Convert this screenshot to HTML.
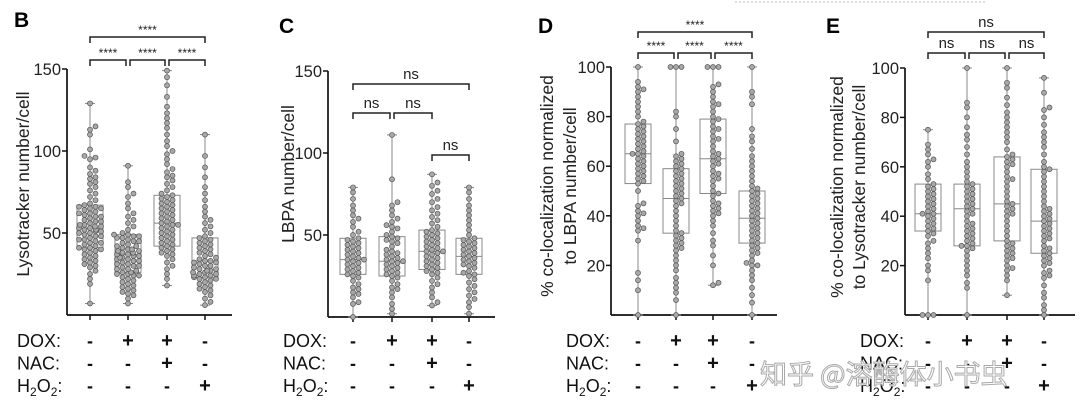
<!DOCTYPE html>
<html><head><meta charset="utf-8">
<style>
html,body{margin:0;padding:0;background:#fff;width:1080px;height:412px;overflow:hidden}
svg{display:block;font-family:"Liberation Sans","Noto Sans CJK SC",sans-serif}
</style></head>
<body>
<svg id="fig" width="1080" height="412" viewBox="0 0 1080 412">
<line x1="735" y1="2" x2="985" y2="2" stroke="#bbb" stroke-dasharray="2,2"/>
</svg>
<script>
// ---- data ----
const groupLabels = ["ctrl","DOX","DOX+NAC","H2O2"];
const doxRow = ["-","+","+","-"];
const nacRow = ["-","-","+","-"];
const h2o2Row = ["-","-","-","+"];

const bStats = [[7,41,53,67,129],[7,26,37,49,91],[18,42,56,73,149],[6,23,33,47,110]];
const bG1 = [7,19,22,25,27,29,30,31,32,33,34,35,36,37,38,39,40,40,41,41,42,43,44,44,45,46,46,47,48,48,49,50,50,51,51,52,52,53,53,54,54,55,55,56,57,57,58,59,60,60,61,62,62,63,64,65,65,66,66,67,68,70,72,74,76,78,80,81,83,84,86,88,90,95,96,97,101,110,113,115,129];
const bG2 = [7,10,12,13,14,15,16,17,18,19,20,21,22,23,24,24,25,25,26,26,27,28,28,29,30,30,31,31,32,33,33,34,34,35,35,36,36,37,37,38,38,39,39,40,40,41,42,42,43,44,45,45,46,47,47,48,48,49,49,50,52,54,56,58,60,62,65,68,72,74,78,81,91];
const bG3 = [18,22,25,28,30,32,34,36,37,38,39,40,41,42,43,44,45,46,47,48,49,50,51,52,53,54,55,55,56,57,58,59,60,61,62,63,64,65,66,67,68,69,70,71,72,73,74,76,78,80,82,84,85,87,89,92,95,98,100,103,106,110,114,117,120,123,127,133,140,145,149];
const bG4 = [6,8,10,12,14,15,16,17,18,19,20,21,22,22,23,23,24,24,25,25,26,26,27,27,28,28,29,30,30,31,32,32,33,33,34,35,36,37,38,39,40,41,42,43,44,45,46,47,48,50,52,54,56,58,60,63,66,70,74,78,84,90,97,110];

const cStats = [[0,26,35,48,79],[2,25,34,49,111],[7,29,40,53,87],[2,26,37,48,79]];
const cG1 = [0,8,9,12,14,15,17,18,20,22,24,25,26,27,28,29,30,31,32,33,34,35,35,36,37,38,39,40,41,42,43,44,45,46,47,48,50,52,55,58,60,62,65,68,72,76,79];
const cG2 = [2,5,8,12,15,17,18,20,22,24,25,26,27,28,29,30,31,32,33,34,34,35,36,37,38,39,40,41,43,45,46,47,48,49,50,52,54,55,56,58,60,62,65,68,70,84,111];
const cG3 = [7,9,12,15,18,20,22,24,26,27,28,29,30,31,32,33,34,35,36,37,38,39,40,40,41,42,43,44,45,46,47,48,49,50,51,52,53,55,57,59,61,63,65,67,70,72,75,77,80,82,87];
const cG4 = [2,6,9,11,13,15,17,19,21,23,25,26,27,28,30,31,32,33,34,35,36,37,38,39,40,41,42,43,44,45,46,47,48,50,53,56,59,62,65,68,72,76,79];

const dStats = [[0,53,65,77,100],[0,33,47,59,100],[12,49,63,79,100],[0,29,39,50,100]];
const dG1 = [0,10,14,17,30,34,35,36,38,40,41,42,44,45,50,53,54,55,56,57,58,59,60,61,62,63,64,65,65,66,67,68,69,70,71,72,73,74,75,76,77,78,80,82,84,86,88,90,91,92,94,100];
const dG2 = [0,6,9,11,13,15,18,20,22,24,26,27,28,29,30,31,32,33,34,36,38,40,42,44,45,46,47,48,49,50,51,52,53,54,55,56,57,58,59,60,61,62,63,64,65,70,75,80,82,100,100,100];
const dG3 = [12,13,20,24,28,30,33,36,38,40,41,42,43,44,45,46,48,49,50,52,54,55,56,57,58,60,61,62,63,64,65,66,68,70,71,72,74,75,76,78,79,80,82,84,85,86,88,90,92,93,100,100,100];
const dG4 = [0,5,8,11,14,16,18,20,20,21,22,24,25,26,27,28,29,30,31,32,33,34,35,36,37,38,39,40,41,42,43,44,45,46,47,48,49,50,51,52,54,56,58,60,62,64,67,70,72,75,85,88,90,100];

const eStats = [[0,34,41,53,75],[0,28,43,53,100],[8,30,45,64,100],[0,25,38,59,96]];
const eG1 = [0,0,0,14,18,20,23,25,27,29,30,32,33,34,35,36,37,38,39,40,41,41,42,43,44,45,46,47,48,49,50,51,52,53,55,57,60,62,63,65,67,69,75];
const eG2 = [0,11,13,16,18,20,22,24,26,27,28,28,29,30,31,32,33,34,35,36,37,38,40,41,42,43,44,45,46,47,48,49,50,51,52,53,54,56,58,60,62,65,68,71,73,76,80,84,86,100];
const eG3 = [8,14,16,18,19,20,22,23,24,25,26,27,28,29,30,32,34,36,38,40,41,42,43,44,45,46,48,50,52,54,55,56,58,60,61,62,63,64,65,67,70,72,74,76,78,80,82,85,88,92,94,100];
const eG4 = [0,2,4,7,9,12,15,16,17,18,20,21,22,23,24,25,26,27,28,30,31,32,33,34,35,36,37,38,39,40,41,42,43,44,46,48,50,52,54,56,58,59,60,62,65,68,70,72,74,77,80,83,84,90,96];

const bTicks = [50,100,150];
const cTicks = [50,100,150];
const dTicks = [20,40,60,80,100];
const eTicks = [20,40,60,80,100];
const bSig = ["****","****","****","****"];
const cSig = ["ns","ns","ns","ns"];
const dSig = ["****","****","****","****"];
const eSig = ["ns","ns","ns","ns"];

// ---- drawing ----
const NS="http://www.w3.org/2000/svg";
const svg=document.getElementById('fig');
function mk(tag,attrs,parent){const e=document.createElementNS(NS,tag);for(const k in attrs)e.setAttribute(k,attrs[k]);(parent||svg).appendChild(e);return e;}

function panel(cfg){
  const g=mk('g',{});
  
  
  const yS=v=>cfg.y0-(v-0)*(cfg.y0-cfg.yTop)/cfg.vmax;
  const L=mk('text',{x:cfg.letter[0],y:cfg.letter[1],'font-size':21,'font-weight':'bold',fill:'#000'},g);
  L.textContent=cfg.id.toUpperCase();
  
  
  const ya=mk('line',{x1:cfg.ax,y1:yS(cfg.vmax),x2:cfg.ax,y2:cfg.y0,stroke:'#111','stroke-width':1.7},g);
  
  
  const xa=mk('line',{x1:cfg.ax,y1:cfg.y0,x2:cfg.axEnd,y2:cfg.y0,stroke:'#111','stroke-width':1.7},g);
  
  
  cfg.ticks.forEach(t=>{
    const y=yS(t);
    const tl=mk('line',{x1:cfg.ax-5,y1:y,x2:cfg.ax,y2:y,stroke:'#111','stroke-width':1.5},g);
    
    
    const tt=mk('text',{x:cfg.ax-6,y:y+6,'font-size':16.5,'text-anchor':'end',fill:'#222'},g);
    tt.textContent=t;
    
    
  });
  cfg.gx.forEach(x=>{
    const tl=mk('line',{x1:x,y1:cfg.y0,x2:x,y2:cfg.y0+5,stroke:'#111','stroke-width':1.5},g);
    
    
  });
  cfg.ytitle.forEach((t,i)=>{
    const x=cfg.ytx[i];
    const yt=mk('text',{x:x,y:cfg.yty,'font-size':17.5,'text-anchor':'middle',fill:'#222',transform:`rotate(-90 ${x} ${cfg.yty})`},g);
    yt.textContent=t;
    
    
  });
  cfg.stats.forEach((s,i)=>{
    const cx=cfg.gx[i];
    const gg=mk('g',{},g);
    
    
    const wl=mk('line',{x1:cx,y1:yS(s[0]),x2:cx,y2:yS(s[4]),stroke:'#888','stroke-width':1},gg);
    
    
    [s[0],s[4]].forEach(v=>{
      const c=mk('line',{x1:cx-5,y1:yS(v),x2:cx+5,y2:yS(v),stroke:'#888','stroke-width':1},gg);
      
      
    });
    const bx=mk('rect',{x:cx-13,y:yS(s[3]),width:26,height:yS(s[1])-yS(s[3]),fill:'none',stroke:'#888','stroke-width':1},gg);
    
    
    const md=mk('line',{x1:cx-13,y1:yS(s[2]),x2:cx+13,y2:yS(s[2]),stroke:'#888','stroke-width':1},gg);
    
    
    const r=2.5, placed=[];
    const vals=cfg.pts[i].slice().sort((a,b)=>a-b);
    vals.forEach(v=>{
      const y=yS(v);let best=null;
      for(let k=0;k<40;k++){
        const off=(k%2?1:-1)*Math.ceil(k/2)*r*1.1;
        if(Math.abs(off)>14)break;
        if(placed.every(p=>(p[0]-off)**2+(p[1]-y)**2>=(1.75*r)**2)){best=off;break;}
      }
      if(best===null){best=((placed.length*7)%29)-14;}
      placed.push([best,y]);
      const c=mk('circle',{cx:cx+best,cy:y,r:r,fill:'#a8a8a8',stroke:'#555','stroke-width':0.7},gg);
      
      
    });
  });
  const br=(x1,x2,y,txt)=>{
    const bg=mk('g',{},g);
    
    
    mk('path',{d:`M${x1} ${y+6}V${y}H${x2}V${y+6}`,fill:'none',stroke:'#222','stroke-width':1.5},bg);
    const st=txt==='ns';
    const t=mk('text',{x:(x1+x2)/2,y:st?y-5:y-3,'font-size':st?15:12,'text-anchor':'middle',fill:'#222'},bg);
    t.textContent=txt;
    
    
  };
  const gx=cfg.gx;
  cfg.brackets.forEach((b,k)=>br(gx[b[0]]+(b[3]||0),gx[b[1]]+(b[4]||0),b[2],cfg.sig[k]));
  const rows=[["DOX:",doxRow],["NAC:",nacRow],["H2O2:",h2o2Row]];
  rows.forEach((rw,j)=>{
    const y=cfg.rowY+j*22.5;
    const lt=mk('text',{x:cfg.rowX,y:y,'font-size':18,fill:'#111'},g);
    if(j===2){lt.innerHTML='H<tspan font-size="12" dy="4">2</tspan><tspan dy="-4">O</tspan><tspan font-size="12" dy="4">2</tspan><tspan dy="-4">:</tspan>';}
    else lt.textContent=rw[0];
    
    
    rw[1].forEach((s,i)=>{
      const st=mk('text',{x:gx[i],y:y,'font-size':s==='+'?20:18,'font-weight':'bold','text-anchor':'middle',fill:'#111'},g);
      st.textContent=s;
      
      
    });
  });
}

panel({id:'b',letter:[14,27],ax:67,y0:315,yTop:69,vmax:150,axEnd:232,ticks:bTicks,gx:[90,128,167,205],
  stats:bStats,pts:[bG1,bG2,bG3,bG4],ytitle:["Lysotracker number/cell"],ytx:[29],yty:184,sig:bSig,
  brackets:[[0,3,37],[0,1,60,0,-2],[1,2,60,2,-2],[2,3,60,2,0]],rowX:17,rowY:347});
panel({id:'c',letter:[279,33],ax:328,y0:317,yTop:71,vmax:150,axEnd:495,ticks:cTicks,gx:[353,392,432,469],
  stats:cStats,pts:[cG1,cG2,cG3,cG4],ytitle:["LBPA number/cell"],ytx:[294],yty:174,sig:cSig,
  brackets:[[0,3,84],[0,1,113,0,-2],[1,2,113,2,0],[2,3,155]],rowX:283,rowY:347});
panel({id:'d',letter:[538,33],ax:611,y0:315,yTop:67,vmax:100,axEnd:777,ticks:dTicks,gx:[638,676,713,752],
  stats:dStats,pts:[dG1,dG2,dG3,dG4],ytitle:["% co-localization normalized","to LBPA number/cell"],ytx:[553,576],yty:186,sig:dSig,
  brackets:[[0,3,32],[0,1,53,0,-2],[1,2,53,2,-2],[2,3,53,2,0]],rowX:566,rowY:347});
panel({id:'e',letter:[826,33],ax:905,y0:315,yTop:68,vmax:100,axEnd:1075,ticks:eTicks,gx:[928,967,1007,1044],
  stats:eStats,pts:[eG1,eG2,eG3,eG4],ytitle:["% co-localization normalized","to Lysotracker number/cell"],ytx:[843,865],yty:187,sig:eSig,
  brackets:[[0,3,32],[0,1,53,0,-2],[1,2,53,2,-2],[2,3,53,2,0]],rowX:860,rowY:347});

const wm=mk('text',{x:760,y:384,'font-size':27,fill:'#fff',stroke:'#aaa','stroke-width':1,'font-family':'"Noto Sans CJK SC",sans-serif'});
wm.textContent='知乎 @溶酶体小书虫';


</script>
</body></html>
